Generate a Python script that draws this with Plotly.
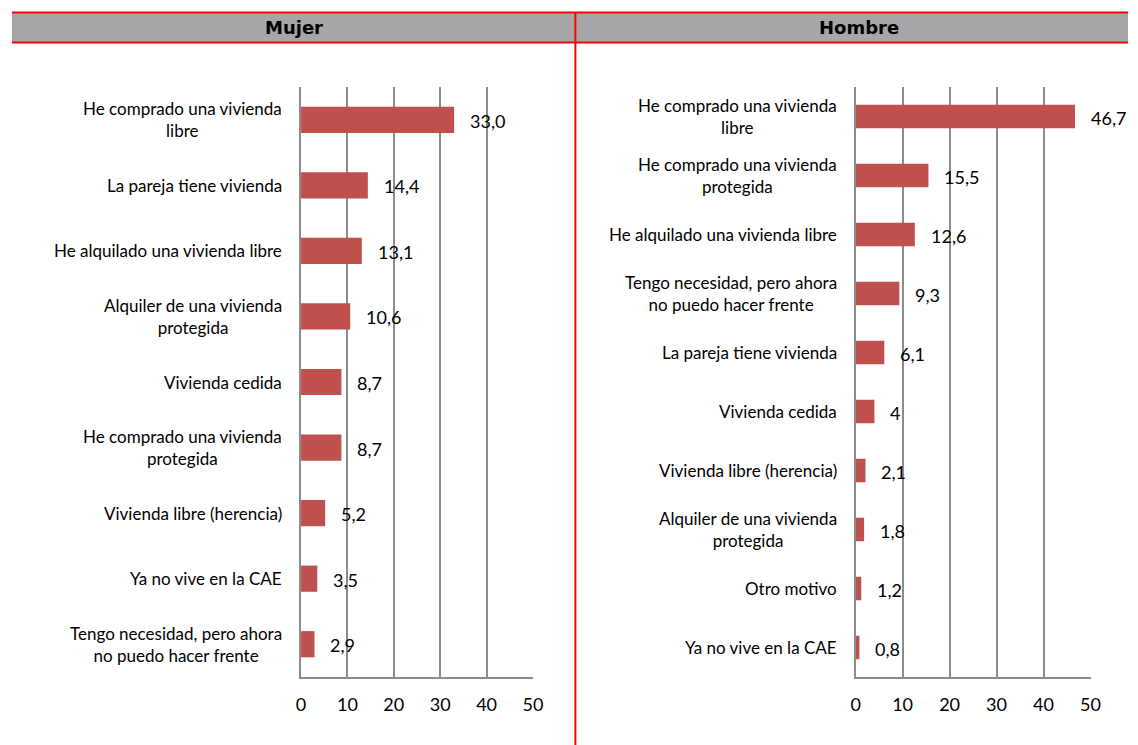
import plotly.graph_objects as go

# Motivos de baja en la demanda de vivienda, por sexo (%)
mujer_cats = [
    "He comprado una vivienda<br>libre",
    "La pareja tiene vivienda",
    "He alquilado una vivienda libre",
    "Alquiler de una vivienda<br>protegida",
    "Vivienda cedida",
    "He comprado una vivienda<br>protegida",
    "Vivienda libre (herencia)",
    "Ya no vive en la CAE",
    "Tengo necesidad, pero ahora<br>no puedo hacer frente",
]
mujer_text = ["33,0", "14,4", "13,1", "10,6", "8,7", "8,7", "5,2", "3,5", "2,9"]

hombre_cats = [
    "He comprado una vivienda<br>libre",
    "He comprado una vivienda<br>protegida",
    "He alquilado una vivienda libre",
    "Tengo necesidad, pero ahora<br>no puedo hacer frente",
    "La pareja tiene vivienda",
    "Vivienda cedida",
    "Vivienda libre (herencia)",
    "Alquiler de una vivienda<br>protegida",
    "Otro motivo",
    "Ya no vive en la CAE",
]
hombre_text = ["46,7", "15,5", "12,6", "9,3", "6,1", "4", "2,1", "1,8", "1,2", "0,8"]

x_ticks = [0, 10, 20, 30, 40, 50]


def to_num(labels):
    return [float(s.replace(",", ".")) for s in labels]


mujer_vals = to_num(mujer_text)
hombre_vals = to_num(hombre_text)

W, H = 1138, 745
BAR = "#C0504D"
GRID = "#8C8C8C"
FONT = "Lato"


def px_x(p):
    return p / W


def px_y(p):
    return 1 - p / H


fig = go.Figure()

panels = [
    ("x", "y", mujer_cats, mujer_vals, mujer_text),
    ("x2", "y2", hombre_cats, hombre_vals, hombre_text),
]

annotations = []
for xa, ya, cats, vals, texts in panels:
    idx = list(range(len(cats)))
    fig.add_trace(go.Bar(
        x=vals, y=idx, orientation="h", xaxis=xa, yaxis=ya,
        marker=dict(color=BAR, line=dict(width=0)), width=0.4,
        hoverinfo="skip", showlegend=False,
    ))
    for i, (c, v, t) in enumerate(zip(cats, vals, texts)):
        annotations.append(dict(
            x=0, y=i, xref=xa, yref=ya, text=c, showarrow=False,
            xanchor="right", yanchor="middle", align="center", xshift=-17,
            font=dict(family=FONT, size=17, color="#000"),
        ))
        annotations.append(dict(
            x=v, y=i, xref=xa, yref=ya, text=t, showarrow=False,
            xanchor="left", yanchor="middle", xshift=14, yshift=-1,
            font=dict(family=FONT, size=18, color="#000"),
        ))

axis_x = dict(
    range=[0, 50], tickvals=x_ticks, ticks="", showgrid=True,
    gridcolor=GRID, gridwidth=2, zeroline=False, showline=True,
    linecolor=GRID, linewidth=2, mirror=False, ticklabelstandoff=10,
    tickfont=dict(family=FONT, size=18, color="#000"), fixedrange=True,
)

fig.update_layout(
    width=W, height=H, autosize=False, margin=dict(l=0, r=0, t=0, b=0),
    paper_bgcolor="white", plot_bgcolor="white",
    xaxis=dict(axis_x, domain=[px_x(300), px_x(535)], anchor="y"),
    xaxis2=dict(axis_x, domain=[px_x(862), px_x(1100)], anchor="y2"),
    yaxis=dict(domain=[px_y(677), px_y(87)], range=[len(mujer_cats) - 0.5, -0.5],
               showticklabels=False, showgrid=False, zeroline=False,
               showline=True, linecolor=GRID, linewidth=2, anchor="x"),
    yaxis2=dict(domain=[px_y(677), px_y(87)], range=[len(hombre_cats) - 0.5, -0.5],
                showticklabels=False, showgrid=False, zeroline=False,
                showline=True, linecolor=GRID, linewidth=2, anchor="x2"),
    bargap=0.6,
)

# Header band with panel titles and red separators
shapes = [
    dict(type="rect", xref="paper", yref="paper", x0=px_x(7), x1=1,
         y0=px_y(43), y1=px_y(12), fillcolor="#A6A6A6", line=dict(width=0), layer="below"),
    dict(type="line", xref="paper", yref="paper", x0=px_x(7), x1=1,
         y0=px_y(12.5), y1=px_y(12.5), line=dict(color="#FF0000", width=2)),
    dict(type="line", xref="paper", yref="paper", x0=px_x(7), x1=1,
         y0=px_y(42.5), y1=px_y(42.5), line=dict(color="#FF0000", width=2)),
    dict(type="line", xref="paper", yref="paper", x0=px_x(578), x1=px_x(578),
         y0=0, y1=px_y(12.5), line=dict(color="#FF0000", width=2)),
]
for title, cx in [("Mujer", 293), ("Hombre", 865)]:
    annotations.append(dict(
        x=px_x(cx), y=px_y(28), xref="paper", yref="paper", text=f"<b>{title}</b>",
        showarrow=False, xanchor="center", yanchor="middle",
        font=dict(family="DejaVu Sans", size=18, color="#000"),
    ))

fig.update_layout(shapes=shapes, annotations=annotations)
fig.write_html(
    "out.html",
    config={"responsive": False},
    post_script="document.body.style.margin='0';document.body.style.overflow='hidden';",
)
